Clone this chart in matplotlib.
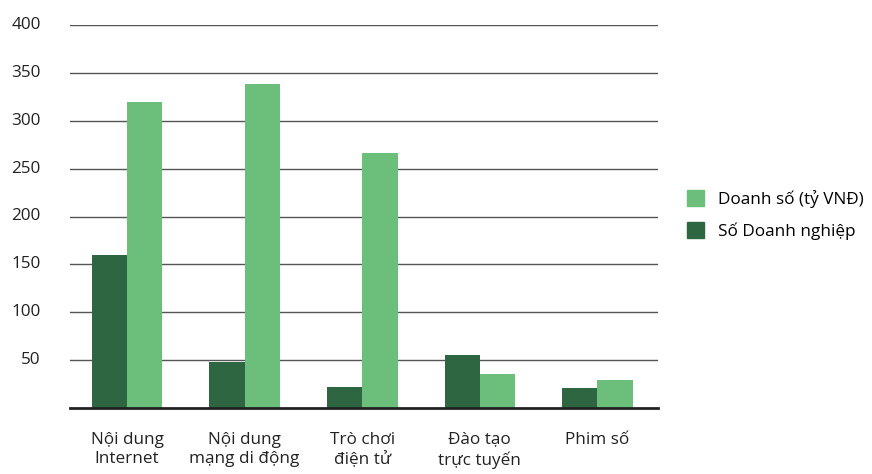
import matplotlib
matplotlib.use("Agg")
import matplotlib.pyplot as plt
import matplotlib.transforms as mtransforms
import numpy as np
from matplotlib.patches import Patch

categories = ["Nội dung\nInternet", "Nội dung\nmạng di động", "Trò chơi\nđiện tử",
              "Đào tạo\ntrực tuyến", "Phim số"]
so_doanh_nghiep = [160, 48, 22, 55, 21]
doanh_so = [320, 338, 266, 35, 29]
y_ticks = [50, 100, 150, 200, 250, 300, 350, 400]

dark = "#2d6640"
light = "#6bbf7b"

plt.rcParams['font.family'] = ['Open Sans', 'DejaVu Sans']

fig = plt.figure(figsize=(8.72, 4.74), dpi=100)
ax = fig.add_axes([70/872, 1-408/474, 588/872, 383/474])

x = np.arange(len(categories))
w = 0.3
ax.bar(x - w/2, so_doanh_nghiep, width=w, color=dark, zorder=3)
ax.bar(x + w/2, doanh_so, width=w, color=light, zorder=3)

ax.set_xlim(-0.485, len(categories) - 0.485)
ax.set_ylim(0, 400)
ax.set_yticks(y_ticks)
ax.set_yticklabels([str(v) for v in y_ticks], fontsize=12.3, color="#222222",
                   va="center")
offset = mtransforms.ScaledTranslation(0, 4/100, fig.dpi_scale_trans)
for lbl in ax.get_yticklabels():
    lbl.set_transform(lbl.get_transform() + offset)
for v in y_ticks:
    ax.axhline(v, color="#555555", lw=1, zorder=1)
ax.tick_params(axis="y", length=0, pad=21)
ax.set_xticks(x)
ax.set_xticklabels(categories, fontsize=12.3, color="#222222", linespacing=1.3)
ax.tick_params(axis="x", length=0, pad=17)

for s in ["top", "right", "left"]:
    ax.spines[s].set_visible(False)
ax.spines["bottom"].set_linewidth(2)
ax.spines["bottom"].set_color("#222222")
ax.spines["bottom"].set_zorder(4)

handles = [Patch(color=light, label="Doanh số (tỷ VNĐ)"),
           Patch(color=dark, label="Số Doanh nghiệp")]
fig.legend(handles=handles, loc="center left", bbox_to_anchor=(672/872, 1-215/474),
           frameon=False, fontsize=12.3, handlelength=1.0, handleheight=1.0,
           handletextpad=0.8, labelspacing=0.85)

fig.savefig("out.png", dpi=100)
